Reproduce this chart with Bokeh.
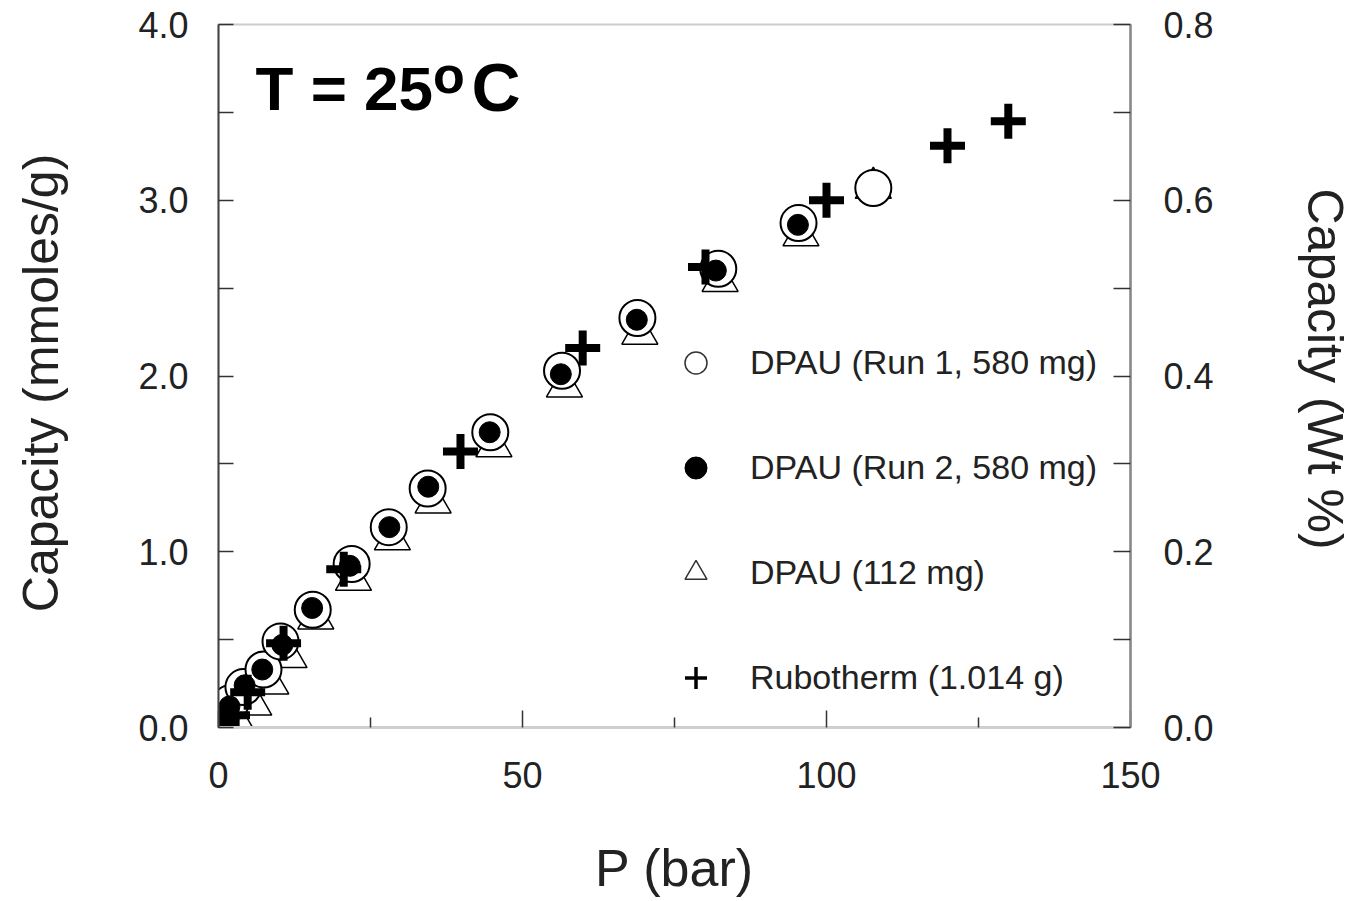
from bokeh.plotting import figure
from bokeh.models import (Range1d, LinearAxis, FixedTicker, NumeralTickFormatter,
                          Legend, LegendItem, Label)
from bokeh.embed import file_html
from bokeh.resources import INLINE

FONT = "Liberation Sans"

# ---- data ----
run1_p = [0.3, 2.0, 4.1, 7.4, 10.2, 15.5, 21.9, 28.0, 34.4, 44.7, 56.5, 68.9, 82.2, 95.4, 107.7]
run1_c = [0.05, 0.14, 0.23, 0.33, 0.49, 0.67, 0.93, 1.14, 1.36, 1.68, 2.03, 2.33, 2.61, 2.87, 3.07]

run2_p = [0.5, 1.8, 4.3, 7.2, 10.5, 15.4, 21.6, 28.1, 34.5, 44.6, 56.3, 68.8, 81.8, 95.3]
run2_c = [0.04, 0.12, 0.24, 0.33, 0.47, 0.68, 0.92, 1.14, 1.37, 1.68, 2.01, 2.32, 2.60, 2.86]

small_p = [0.8, 2.8, 5.8, 8.6, 11.6, 16.0, 22.2, 28.6, 35.3, 45.3, 56.9, 69.3, 82.5, 95.8, 107.7]
small_c = [0.01, 0.05, 0.13, 0.25, 0.40, 0.62, 0.84, 1.07, 1.28, 1.60, 1.94, 2.24, 2.54, 2.80, 3.07]

rub_p = [0.6, 2.3, 4.8, 10.7, 20.6, 39.8, 59.9, 80.1, 100.0, 119.9, 129.9]
rub_c = [0.02, 0.07, 0.20, 0.48, 0.90, 1.57, 2.16, 2.62, 3.00, 3.31, 3.45]

labels = ["DPAU (Run 1, 580 mg)", "DPAU (Run 2, 580 mg)", "DPAU (112 mg)", "Rubotherm (1.014 g)"]

x_ticks = [0, 50, 100, 150]
x_minor = [25, 75, 125]
y_ticks = [0.0, 1.0, 2.0, 3.0, 4.0]
y_minor = [0.5, 1.5, 2.5, 3.5]
wt_ticks = [0.0, 0.2, 0.4, 0.6, 0.8]
wt_minor = [0.1, 0.3, 0.5, 0.7]

p = figure(width=1355, height=899, output_backend="svg", toolbar_location=None,
           x_range=Range1d(0, 150), y_range=Range1d(0, 4),
           min_border_left=218, min_border_right=225, min_border_top=24,
           min_border_bottom=171)
p.xgrid.visible = False
p.ygrid.visible = False
p.outline_line_color = "#cccccc"
p.outline_line_width = 2
p.background_fill_color = "white"
p.border_fill_color = "white"
p.extra_y_ranges = {"wt": Range1d(0, 0.8)}
# off-screen range that only carries the legend's sample glyphs
p.extra_x_ranges = {"off": Range1d(-1000, -999)}

# x axis
xa = p.xaxis[0]
xa.ticker = FixedTicker(ticks=x_ticks, minor_ticks=x_minor)
xa.axis_line_color = "#cfcfcf"
xa.axis_line_width = 3
xa.major_tick_in = 17
xa.major_tick_out = 0
xa.minor_tick_in = 10
xa.minor_tick_out = 0
xa.major_tick_line_color = "#333333"
xa.minor_tick_line_color = "#333333"
xa.major_tick_line_width = 1.5
xa.minor_tick_line_width = 1.5
xa.major_label_standoff = 34
xa.major_label_text_font = FONT
xa.major_label_text_font_size = "36px"
xa.major_label_text_color = "#222222"
xa.axis_label = "P (bar)"
xa.axis_label_text_font = FONT
xa.axis_label_text_font_size = "52px"
xa.axis_label_text_font_style = "normal"
xa.axis_label_text_color = "#222222"
xa.axis_label_standoff = 48

# left axis
ya = p.yaxis[0]
ya.ticker = FixedTicker(ticks=y_ticks, minor_ticks=y_minor)
ya.formatter = NumeralTickFormatter(format="0.0")
ya.axis_line_color = "#444444"
ya.axis_line_width = 2
ya.major_tick_in = 15
ya.major_tick_out = 0
ya.minor_tick_in = 15
ya.minor_tick_out = 0
ya.major_tick_line_color = "#333333"
ya.minor_tick_line_color = "#333333"
ya.major_tick_line_width = 1.5
ya.minor_tick_line_width = 1.5
ya.major_label_standoff = 30
ya.major_label_text_font = FONT
ya.major_label_text_font_size = "36px"
ya.major_label_text_color = "#222222"
ya.axis_label = "Capacity  (mmoles/g)"
ya.axis_label_text_font = FONT
ya.axis_label_text_font_size = "50px"
ya.axis_label_text_font_style = "normal"
ya.axis_label_text_color = "#222222"
ya.axis_label_standoff = 66

# right axis
ra = LinearAxis(y_range_name="wt",
                ticker=FixedTicker(ticks=wt_ticks, minor_ticks=wt_minor),
                formatter=NumeralTickFormatter(format="0.0"))
ra.axis_line_color = "#888888"
ra.axis_line_width = 2.5
ra.major_tick_in = 17
ra.major_tick_out = 0
ra.minor_tick_in = 17
ra.minor_tick_out = 0
ra.major_tick_line_color = "#333333"
ra.minor_tick_line_color = "#333333"
ra.major_tick_line_width = 1.5
ra.minor_tick_line_width = 1.5
ra.major_label_standoff = 33
ra.major_label_text_font = FONT
ra.major_label_text_font_size = "36px"
ra.major_label_text_color = "#222222"
ra.axis_label = "Capacity  (Wt %)"
ra.axis_label_text_font = FONT
ra.axis_label_text_font_size = "50px"
ra.axis_label_text_font_style = "normal"
ra.axis_label_text_color = "#222222"
ra.axis_label_standoff = 80
p.add_layout(ra, "right")

# ---- data markers ----
p.scatter(small_p, small_c, marker="triangle", size=36, fill_color=None,
          line_color="black", line_width=1.5)
p.scatter(run1_p, run1_c, marker="circle", size=36, fill_color="white",
          line_color="black", line_width=2)
p.scatter(run2_p, run2_c, marker="circle", size=21, fill_color="black",
          line_color="black", line_width=1)
p.scatter(rub_p, rub_c, marker="cross", size=35, line_color="black", line_width=8)

# ---- legend sample glyphs (same series, drawn on the off-screen range) ----
l1 = p.scatter(run1_p, run1_c, x_range_name="off", marker="circle", fill_color="white",
               line_color="#333333", line_width=1.5)
l2 = p.scatter(run2_p, run2_c, x_range_name="off", marker="circle", fill_color="black",
               line_color="black", line_width=1)
l3 = p.scatter(small_p, small_c, x_range_name="off", marker="triangle", fill_color="white",
               line_color="#333333", line_width=1.5)
l4 = p.scatter(rub_p, rub_c, x_range_name="off", marker="cross", line_color="black",
               line_width=3.5)

legend = Legend(items=[LegendItem(label=labels[0], renderers=[l1]),
                       LegendItem(label=labels[1], renderers=[l2]),
                       LegendItem(label=labels[2], renderers=[l3]),
                       LegendItem(label=labels[3], renderers=[l4])],
                location=(450, 22), glyph_width=55, glyph_height=55, label_height=55,
                spacing=50, label_standoff=27, padding=0, margin=0,
                border_line_color=None, background_fill_alpha=0,
                label_text_font=FONT, label_text_font_size="34px",
                label_text_color="#222222")
p.add_layout(legend)

# ---- temperature annotation ----
p.add_layout(Label(x=6.1, y=3.635, text="T = 25", text_font=FONT, text_font_style="bold",
                   text_font_size="62px", text_color="black", text_baseline="alphabetic"))
p.add_layout(Label(x=35.3, y=3.71, text="o", text_font=FONT, text_font_style="bold",
                   text_font_size="52px", text_color="black", text_baseline="alphabetic"))
p.add_layout(Label(x=41.6, y=3.645, text="C", text_font=FONT, text_font_style="bold",
                   text_font_size="68px", text_color="black", text_baseline="alphabetic"))

open("out.html", "w").write(file_html(p, INLINE))
